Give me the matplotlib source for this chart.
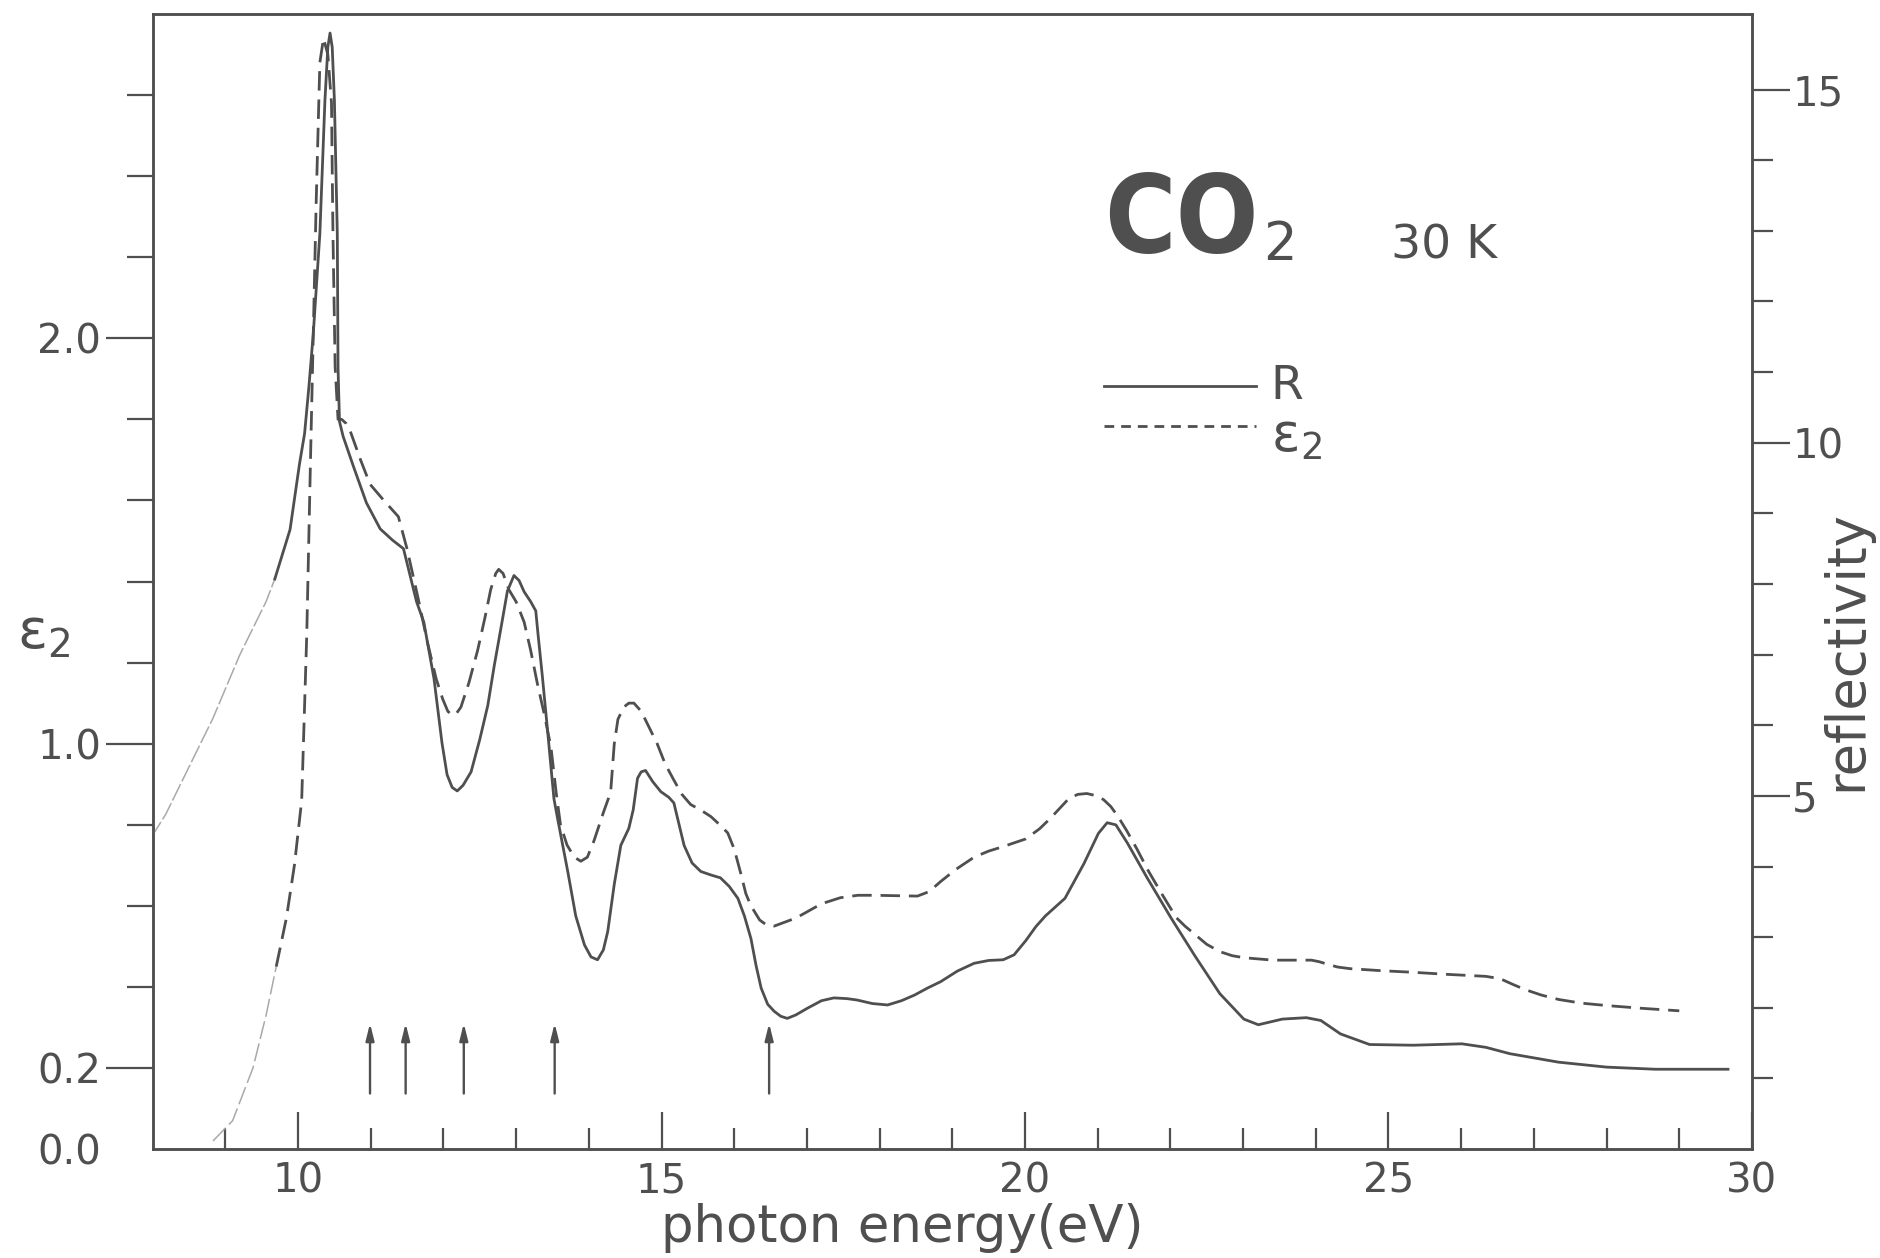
import numpy as np
import matplotlib
matplotlib.use("Agg")
import matplotlib.pyplot as plt
from matplotlib.ticker import FixedLocator, FixedFormatter

plt.rcParams["font.family"] = ["DejaVu Sans"]
plt.rcParams["mathtext.default"] = "regular"

INK = "#4f4f4f"
LIGHT = "#a9a9a9"

# reflectivity R (right axis), measured part
r_x = [9.68, 9.89, 10.02, 10.09, 10.15, 10.21, 10.30, 10.37, 10.41, 10.44, 10.47,
       10.50, 10.54, 10.55, 10.57, 10.62, 10.76, 10.94, 11.13, 11.30, 11.45, 11.63, 11.73,
       11.87, 11.98, 12.05, 12.12, 12.19, 12.27, 12.38, 12.50, 12.61, 12.70, 12.79,
       12.88, 12.97, 13.04, 13.11, 13.20, 13.27, 13.30, 13.36, 13.43, 13.52, 13.57,
       13.71, 13.82, 13.94, 14.03, 14.12, 14.20, 14.26, 14.35, 14.44, 14.55, 14.61,
       14.67, 14.72, 14.78, 14.88, 14.99, 15.10, 15.17, 15.24, 15.31, 15.42, 15.54,
       15.68, 15.81, 15.93, 16.05, 16.14, 16.23, 16.30, 16.37, 16.46, 16.55, 16.64,
       16.73, 16.85, 17.00, 17.20, 17.37, 17.55, 17.69, 17.90, 18.11, 18.30, 18.48,
       18.66, 18.84, 19.07, 19.30, 19.50, 19.70, 19.85, 20.01, 20.15, 20.28, 20.55,
       20.81, 21.01, 21.13, 21.25, 21.41, 21.68, 22.01, 22.34, 22.68, 23.01, 23.21,
       23.54, 23.87, 24.07, 24.34, 24.74, 25.34, 26.01, 26.34, 26.67, 27.34, 28.00,
       28.67, 29.67]
r_y = [8.07, 8.77, 9.70, 10.13, 10.8, 11.55, 12.96, 14.85, 15.6, 15.8, 15.6,
       14.85, 12.96, 11.06, 10.3, 10.09, 9.67, 9.15, 8.78, 8.62, 8.5, 7.75, 7.46,
       6.66, 5.75, 5.3, 5.12, 5.07, 5.15, 5.34, 5.8, 6.28, 6.85, 7.37,
       7.9, 8.12, 8.05, 7.89, 7.75, 7.62, 7.3, 6.7, 5.95, 4.96, 4.68,
       3.93, 3.3, 2.89, 2.72, 2.68, 2.82, 3.08, 3.75, 4.3, 4.54, 4.8,
       5.25, 5.34, 5.36, 5.2, 5.06, 4.98, 4.9, 4.6, 4.3, 4.05, 3.93,
       3.88, 3.84, 3.72, 3.55, 3.3, 2.98, 2.6, 2.28, 2.05, 1.95, 1.88,
       1.85, 1.9, 1.99, 2.1, 2.14, 2.13, 2.11, 2.06, 2.04, 2.1, 2.18,
       2.28, 2.37, 2.52, 2.63, 2.67, 2.68, 2.75, 2.95, 3.15, 3.3, 3.55,
       4.04, 4.47, 4.62, 4.59, 4.33, 3.84, 3.27, 2.73, 2.2, 1.84, 1.76,
       1.84, 1.86, 1.82, 1.63, 1.48, 1.47, 1.49, 1.44, 1.35, 1.23, 1.16,
       1.13, 1.13]

# R extrapolated below the first peak (faint line)
r_thin_x = [7.98, 8.18, 8.83, 9.20, 9.56, 9.68]
r_thin_y = [4.41, 4.74, 6.10, 7.00, 7.75, 8.07]

# epsilon_2 (left axis)
eps_x = [9.70, 9.84, 9.95, 10.05, 10.12, 10.17, 10.21, 10.25, 10.30, 10.35,
         10.41, 10.46, 10.48, 10.51, 10.55, 10.60, 10.66, 10.72, 10.86, 10.99,
         11.18, 11.38, 11.50, 11.65, 11.78, 11.90, 11.99, 12.06, 12.12, 12.18, 12.24,
         12.35, 12.47, 12.57, 12.65, 12.72, 12.76, 12.82, 12.90, 13.00, 13.11, 13.20,
         13.29, 13.39, 13.48, 13.55, 13.61, 13.70, 13.80, 13.89, 13.98, 14.07, 14.20,
         14.30, 14.35, 14.40, 14.48, 14.55, 14.62, 14.72, 14.83, 14.94, 15.05, 15.17,
         15.28, 15.40, 15.55, 15.68, 15.80, 15.91, 16.00, 16.09, 16.16, 16.23, 16.35,
         16.45, 16.55, 16.70, 16.85, 17.00, 17.20, 17.46, 17.70, 17.92, 18.20, 18.52,
         18.68, 18.84, 19.05, 19.30, 19.50, 19.68, 20.01, 20.20, 20.35, 20.50, 20.61,
         20.73, 20.85, 20.97, 21.08, 21.18, 21.28, 21.40, 21.54, 21.70, 21.88, 22.08,
         22.20, 22.34, 22.50, 22.68, 22.85, 23.01, 23.41, 23.70, 23.94, 24.05, 24.14,
         24.30, 24.47, 24.90, 25.34, 25.80, 26.34, 26.54, 26.70, 26.87, 27.10, 27.34,
         27.65, 28.00, 28.50, 29.00]
eps_y = [0.45, 0.57, 0.70, 0.86, 1.27, 1.69, 2.01, 2.34, 2.68, 2.74,
         2.70, 2.58, 2.26, 1.93, 1.80, 1.80, 1.79, 1.77, 1.70, 1.64,
         1.60, 1.56, 1.48, 1.36, 1.25, 1.16, 1.11, 1.08, 1.07, 1.075, 1.09,
         1.15, 1.23, 1.31, 1.38, 1.42, 1.43, 1.42, 1.38, 1.35, 1.30, 1.23,
         1.15, 1.07, 0.99, 0.88, 0.80, 0.75, 0.72, 0.71, 0.72, 0.76, 0.83,
         0.88, 1.00, 1.06, 1.09, 1.10, 1.10, 1.08, 1.04, 1.00, 0.95, 0.91,
         0.875, 0.85, 0.835, 0.82, 0.80, 0.78, 0.74, 0.68, 0.63, 0.60, 0.565,
         0.552, 0.55, 0.56, 0.57, 0.585, 0.605, 0.62, 0.626, 0.626, 0.625, 0.624,
         0.635, 0.66, 0.69, 0.72, 0.735, 0.745, 0.765, 0.79, 0.816, 0.845, 0.866,
         0.875, 0.877, 0.872, 0.862, 0.845, 0.82, 0.785, 0.74, 0.685, 0.63, 0.571,
         0.55, 0.529, 0.505, 0.487, 0.477, 0.472, 0.466, 0.466, 0.466, 0.462, 0.457,
         0.449, 0.445, 0.44, 0.436, 0.431, 0.426, 0.42, 0.407, 0.394, 0.38, 0.369,
         0.36, 0.354, 0.347, 0.341]

eps_thin_x = [8.83, 9.10, 9.38, 9.56, 9.70]
eps_thin_y = [0.02, 0.07, 0.20, 0.33, 0.45]

# arrows marking transitions
arrow_x = [10.99, 11.48, 12.28, 13.53, 16.48]

fig = plt.figure(figsize=(18.8, 12.58), dpi=100)
ax = fig.add_axes([0.0812, 0.0866, 0.8507, 0.9023])
ax2 = ax.twinx()

ax.set_xlim(8, 30)
ax.set_ylim(0, 2.80)
ax2.set_ylim(0, 16.07)

ax2.plot(r_thin_x, r_thin_y, color=LIGHT, lw=1.1, ls=(0, (12, 2)))
ax2.plot(r_x, r_y, color=INK, lw=2.0, solid_joinstyle="round")
ax.plot(eps_thin_x, eps_thin_y, color=LIGHT, lw=1.1, ls=(0, (12, 3)))
ax.plot(eps_x, eps_y, color=INK, lw=2.0, ls=(0, (7, 3.2)))

for xa in arrow_x:
    ax.annotate("", xy=(xa, 0.31), xytext=(xa, 0.137),
                arrowprops=dict(arrowstyle="-|>,head_length=1.0,head_width=0.25",
                                lw=1.7, color=INK, shrinkA=0, shrinkB=0))

# ticks
ax.xaxis.set_major_locator(FixedLocator([10, 15, 20, 25, 30]))
ax.xaxis.set_minor_locator(FixedLocator([9, 11, 12, 13, 14, 16, 17, 18, 19, 21, 22,
                                         23, 24, 26, 27, 28, 29]))
ax.tick_params(axis="x", which="major", direction="in", length=27, width=1.6,
               pad=9, labelsize=29, colors=INK)
ax.tick_params(axis="x", which="minor", direction="in", length=15, width=1.6, colors=INK)

ax.yaxis.set_major_locator(FixedLocator([0, 0.2, 1.0, 2.0]))
ax.yaxis.set_major_formatter(FixedFormatter(["0.0", "0.2", "1.0", "2.0"]))
ax.yaxis.set_minor_locator(FixedLocator([0.4, 0.6, 0.8, 1.2, 1.4, 1.6, 1.8, 2.2, 2.4, 2.6]))
ax.tick_params(axis="y", which="major", direction="out", length=34, width=1.6,
               pad=3, labelsize=29, colors=INK)
ax.tick_params(axis="y", which="minor", direction="out", length=19, width=1.6, colors=INK)
ax.yaxis.get_major_ticks()[0].tick1line.set_visible(False)

ax2.yaxis.set_major_locator(FixedLocator([5, 10, 15]))
ax2.yaxis.set_minor_locator(FixedLocator([1, 2, 3, 4, 6, 7, 8, 9, 11, 12, 13, 14]))
ax2.tick_params(axis="y", which="major", direction="out", length=27, width=1.6,
                pad=2, labelsize=29, colors=INK)
ax2.tick_params(axis="y", which="minor", direction="out", length=15, width=1.6, colors=INK)

for a in (ax, ax2):
    for sp in a.spines.values():
        sp.set_linewidth(1.8)
        sp.set_color(INK)

# labels
fig.text(0.48, 0.044, "photon energy(eV)", fontsize=37, color=INK, ha="center", va="top")
fig.text(0.982, 0.483, "reflectivity", fontsize=38, color=INK, rotation=90,
         ha="center", va="center")
fig.text(0.023, 0.497, r"$\varepsilon_2$", fontsize=40, color=INK, ha="center", va="center")

# title block and legend
co = ax.text(0.595, 0.79, "CO", transform=ax.transAxes, fontsize=78, fontweight="bold",
             fontstretch="condensed", color=INK, va="baseline")
ax.annotate("2", xy=(1, 0), xycoords=co, xytext=(3, 3), textcoords="offset points",
            fontsize=38, color=INK, va="bottom", ha="left")
ax.text(0.774, 0.785, "30 K", transform=ax.transAxes, fontsize=34, color=INK, va="baseline")

ax.plot([0.595, 0.690], [0.672, 0.672], transform=ax.transAxes, color=INK, lw=2.0)
ax.plot([0.595, 0.690], [0.637, 0.637], transform=ax.transAxes, color=INK, lw=2.0,
        ls=(0, (3.5, 2.5)))
ax.text(0.699, 0.672, "R", transform=ax.transAxes, fontsize=34, color=INK, va="center")
ax.text(0.699, 0.628, r"$\varepsilon_2$", transform=ax.transAxes, fontsize=38, color=INK,
        va="center")

fig.savefig("out.png", dpi=100)
